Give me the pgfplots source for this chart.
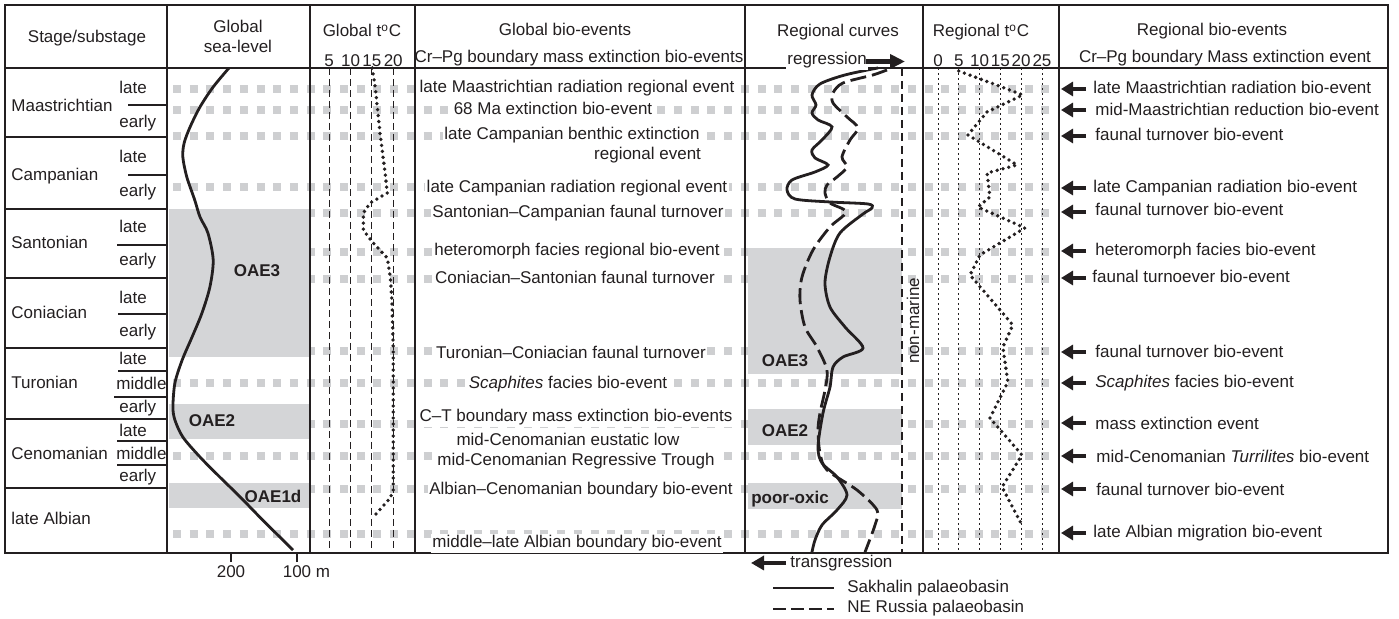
\documentclass[border=0pt]{standalone}
\usepackage{fontspec}
\setmainfont{Liberation Sans}
\usepackage{pgfplots}
\pgfplotsset{compat=1.18}
\usetikzlibrary{arrows.meta}
\definecolor{ink}{RGB}{35,31,32}
\definecolor{band}{RGB}{212,213,215}
\definecolor{evd}{RGB}{206,207,209}
\newcommand\fs{\fontsize{8.5}{10.2}\selectfont}
\pgfplotsset{colax/.style={scale only axis, clip=false, anchor=center, height=242.5pt,
  ymin=68, ymax=553, y dir=reverse, ytick=\empty, axis line style={draw=none},
  tick style={draw=none}, tick label style={font=\fs, text=ink},
  /pgf/number format/assume math mode=true}}
\begin{document}
\fs
\begin{tikzpicture}[x=0.5pt, y=-0.5pt, color=ink]
\useasboundingbox (0,0) rectangle (1399,619);
% event levels
\foreach \r in {89,110,136,187,213,252,279,351,383,424,456,489,534}{
  \draw[evd, line width=4pt, dash pattern=on 4pt off 4.35pt] (173,\r) -- (1058,\r);}
\coordinate (cSL) at (238.5,310.5);
\coordinate (cGT) at (362.5,310.5);
\coordinate (cRC) at (834,310.5);
\coordinate (cRT) at (991,310.5);
% global sea level
\begin{axis}[colax, at={(cSL)}, width=71.5pt, x dir=reverse, xmin=80.3, xmax=297,
  xtick={100,200}, xticklabels={{100\rlap{\ m}},{200}}, xtick pos=bottom,
  tick align=outside, major tick length=4.5pt, tick style={draw=ink, line width=0.6pt},
  xticklabel style={anchor=north, inner sep=0pt, yshift=-1.5pt}]
\addplot[draw=none, fill=band] coordinates {(293.9,209) (81.8,209) (81.8,357) (293.9,357)} -- cycle;
\addplot[draw=none, fill=band] coordinates {(293.9,404) (81.8,404) (81.8,439) (293.9,439)} -- cycle;
\addplot[draw=none, fill=band] coordinates {(293.9,483) (81.8,483) (81.8,508) (293.9,508)} -- cycle;
\addplot[ink, line width=1.4pt, smooth] coordinates {(203,68) (227,87) (247,107) (262,127) (271,143) (273,157) (267,177) (255,200) (247,217) (235,233) (227,260) (232,287) (244,313) (259,337) (274,360) (285,383) (288,407) (285,420) (273,437) (247,457) (217,477) (186,497) (152,520) (106,550)};
\end{axis}
% global temperature
\begin{axis}[colax, at={(cGT)}, width=52.5pt, xmin=0.5, xmax=25.1, xtick={5,10,15,20},
  xticklabel pos=upper, xmajorgrids, major grid style={ink, line width=0.5pt, dash pattern=on 3.5pt off 2pt},
  xticklabel style={anchor=south, inner sep=0pt, yshift=0.5pt}]
\addplot[ink, line width=1.9pt, line cap=round, dash pattern=on 0pt off 3pt] coordinates {(15.1,68) (15.8,88) (16.9,133) (18.1,173) (18.6,193) (14.6,203) (13.0,213) (13.0,230) (15.1,242) (18.6,258) (19.3,277) (19.7,300) (20.0,350) (20.0,417) (20.0,490) (19.3,498) (15.1,518)};
\end{axis}
% regional curves
\begin{axis}[colax, at={(cRC)}, width=89pt, xmin=745, xmax=923, xtick=\empty]
\addplot[draw=none, fill=band] coordinates {(748,248) (902,248) (902,374) (748,374)} -- cycle;
\addplot[draw=none, fill=band] coordinates {(748,409) (902,409) (902,445) (748,445)} -- cycle;
\addplot[draw=none, fill=band] coordinates {(748,483) (902,483) (902,509) (748,509)} -- cycle;
\addplot[ink, line width=1.4pt, smooth] coordinates {(878,68) (845,75) (820,84) (812,95) (816,105) (812,113) (818,120) (832,127) (822,140) (812,150) (815,158) (828,165) (815,172) (792,180) (787,190) (795,199) (830,202) (868,204) (872,208) (863,214) (840,233) (830,257) (825,283) (830,307) (845,327) (863,348) (843,357) (833,367) (830,387) (823,413) (818,447) (822,463) (837,477) (847,495) (837,510) (822,525) (815,540) (812,552)};
\addplot[ink, line width=1.4pt, smooth, dash pattern=on 8pt off 3pt] coordinates {(887,70) (873,75) (843,83) (833,93) (833,103) (847,117) (858,128) (850,140) (842,157) (847,167) (837,177) (827,185) (825,193) (830,203) (846,212) (830,227) (813,250) (802,277) (800,300) (805,327) (817,347) (827,370) (825,390) (820,413) (818,430) (820,453) (827,470) (857,490) (877,510) (875,525) (865,552)};
\end{axis}
% regional temperature
\begin{axis}[colax, at={(cRT)}, width=68pt, xmin=-3.6, xmax=29.1, xtick={0,5,10,15,20,25},
  xticklabel pos=upper, xmajorgrids, major grid style={ink, line width=0.45pt, dash pattern=on 1pt off 1.5pt},
  xticklabel style={anchor=south, inner sep=0pt, yshift=0.5pt}]
\addplot[ink, line width=1.9pt, line cap=round, dash pattern=on 0pt off 3pt] coordinates {(5.0,71) (20.4,95) (11.8,112) (7.2,135) (19.0,165) (11.8,173) (12.5,197) (9.6,207) (20.9,228) (10.1,255) (7.7,275) (18.0,325) (15.6,347) (16.8,382) (12.5,418) (20.2,455) (15.4,487) (20.2,525)};
\end{axis}
% frame
\begin{scope}[line width=0.75pt]
\draw (5,5) rectangle (1388,553);
\draw (5,68) -- (1388,68);
\foreach \x in {167,310,415,745,923,1059}{\draw (\x,5) -- (\x,553);}
\foreach \y in {137,209,278,348,419,488}{\draw (5,\y) -- (167,\y);}
\draw (128,105)--(167,105); \draw (128,175)--(167,175);
\draw (117,245)--(167,245); \draw (118,314)--(167,314);
\draw (118,371)--(167,371); \draw (114,397)--(167,397);
\draw (117,441)--(167,441); \draw (117,465)--(167,465);
\end{scope}
\draw[line width=0.55pt, dash pattern=on 4pt off 2.5pt] (902,68) -- (902,553);
% headers
\node[anchor=base] at (87,43) {Stage/substage};
\node[anchor=base] at (238,33) {Global};
\node[anchor=base] at (238,53) {sea-level};
\node[anchor=base] at (362,37) {Global t\textsuperscript{o}C};
\node[anchor=base] at (565,36) {Global bio-events};
\node[anchor=base] at (579,63) {Cr--Pg boundary mass extinction bio-events};
\node[anchor=base] at (838,37) {Regional curves};
\node[anchor=base west, fill=white, inner sep=0.5pt] at (786,65) {regression};
\draw[line width=2.3pt, -{Triangle[length=7.5pt, width=7pt]}] (866,61.5) -- (905,61.5);
\node[anchor=base] at (981,37) {Regional t\textsuperscript{o}C};
\node[anchor=base] at (1212,36) {Regional bio-events};
\node[anchor=base] at (1225,63) {Cr--Pg boundary Mass extinction event};
% stages
\foreach \n/\y in {Maastrichtian/112, Campanian/181, Santonian/249, Coniacian/319, Turonian/389, Cenomanian/460, late Albian/525}{
  \node[anchor=base west, inner sep=0pt] at (11,\y) {\n};}
\foreach \n/\x/\y in {late/119/94, early/119/128, late/119/163, early/119/197, late/119/233, early/119/266, late/119/304, early/119/337, late/119/365, middle/116/390, early/119/413, late/119/437, middle/116/460, early/119/482}{
  \node[anchor=base west, inner sep=0pt] at (\x,\y) {\n};}
% band labels
\node[anchor=base, font=\bfseries] at (257,277) {OAE3};
\node[anchor=base, font=\bfseries] at (212,427) {OAE2};
\node[anchor=base, font=\bfseries] at (273,503) {OAE1d};
\node[anchor=base, font=\bfseries] at (785,367) {OAE3};
\node[anchor=base, font=\bfseries] at (785,437) {OAE2};
\node[anchor=base, font=\bfseries] at (790,504) {poor-oxic};
\node[rotate=90, anchor=center] at (913,321) {non-marine};
% global bio-events
\begin{scope}[every node/.style={anchor=base, fill=white, inner sep=0.8pt}]
\node at (577,93) {late Maastrichtian radiation regional event};
\node at (553,115) {68 Ma extinction bio-event};
\node at (572,140) {late Campanian benthic extinction};
\node[anchor=base east] at (703,160) {regional event};
\node at (577,193) {late Campanian radiation regional event};
\node at (578,218) {Santonian--Campanian faunal turnover};
\node at (577,256) {heteromorph facies regional bio-event};
\node at (575,284) {Coniacian--Santonian faunal turnover};
\node at (571,359) {Turonian--Coniacian faunal turnover};
\node at (568,389) {\textit{Scaphites} facies bio-event};
\node at (576,422) {C--T boundary mass extinction bio-events};
\node at (568,446) {mid-Cenomanian eustatic low};
\node at (576,466) {mid-Cenomanian Regressive Trough};
\node at (581,495) {Albian--Cenomanian boundary bio-event};
\node at (577,548) {middle--late Albian boundary bio-event};
\end{scope}
% regional bio-events
\foreach \r in {89,110,136,188,212,251,278,352,383,423,456,489,533}{
  \draw[line width=2.2pt, -{Triangle[length=6pt, width=7pt]}] (1086,\r) -- (1061,\r);}
\begin{scope}[every node/.style={anchor=base west, inner sep=0pt}]
\node at (1093,94) {late Maastrichtian radiation bio-event};
\node at (1095,116) {mid-Maastrichtian reduction bio-event};
\node at (1095,141) {faunal turnover bio-event};
\node at (1093,193) {late Campanian radiation bio-event};
\node at (1095,216) {faunal turnover bio-event};
\node at (1095,256) {heteromorph facies bio-event};
\node at (1092,283) {faunal turnoever bio-event};
\node at (1095,358) {faunal turnover bio-event};
\node at (1095,388) {\textit{Scaphites} facies bio-event};
\node at (1095,430) {mass extinction event};
\node at (1096,463) {mid-Cenomanian \textit{Turrilites} bio-event};
\node at (1096,496) {faunal turnover bio-event};
\node at (1093,538) {late Albian migration bio-event};
\end{scope}
% bottom annotations
\draw[line width=2.3pt, -{Triangle[length=6.5pt, width=7pt]}] (786,563) -- (751,563);
\node[anchor=base west, inner sep=0pt] at (790,568) {transgression};
\draw[line width=1pt] (773,588) -- (834,588);
\draw[line width=1pt, dash pattern=on 6.5pt off 2.5pt] (773,609) -- (834,609);
\node[anchor=base west, inner sep=0pt] at (847,593) {Sakhalin palaeobasin};
\node[anchor=base west, inner sep=0pt] at (847,613) {NE Russia palaeobasin};
\end{tikzpicture}
\end{document}
